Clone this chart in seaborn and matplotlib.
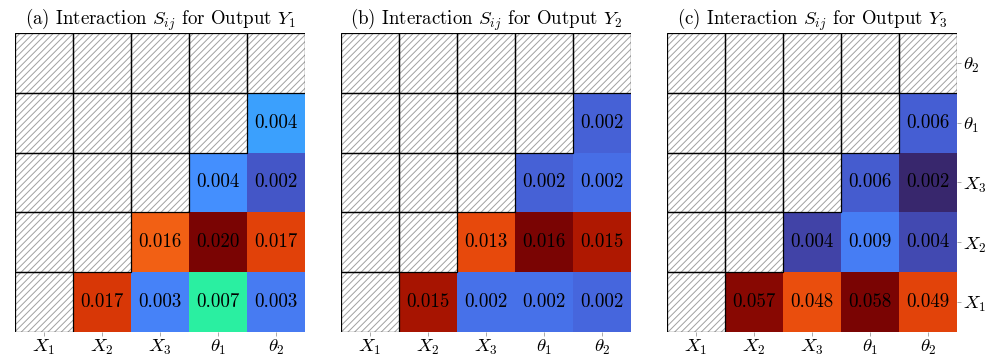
import numpy as np
import pandas as pd
import seaborn as sns
import matplotlib.pyplot as plt
from matplotlib.patches import Rectangle

# variable names, columns left->right, rows top->bottom
cols = ['$X_1$', '$X_2$', '$X_3$', r'$\theta_1$', r'$\theta_2$']
rows = [r'$\theta_2$', r'$\theta_1$', '$X_3$', '$X_2$', '$X_1$']

# interaction values per output (row order as above, NaN = hatched)
n = np.nan
s_y1 = [[n, n, n, n, n],
        [n, n, n, n, 0.0042],
        [n, n, n, 0.0037, 0.0019],
        [n, n, 0.0160, 0.0202, 0.0170],
        [n, 0.0174, 0.0033, 0.0074, 0.0030]]
s_y2 = [[n, n, n, n, n],
        [n, n, n, n, 0.0018],
        [n, n, n, 0.0018, 0.0021],
        [n, n, 0.0134, 0.0162, 0.0151],
        [n, 0.0153, 0.0022, 0.0022, 0.0019]]
s_y3 = [[n, n, n, n, n],
        [n, n, n, n, 0.0062],
        [n, n, n, 0.0061, 0.0018],
        [n, n, 0.0040, 0.0090, 0.0044],
        [n, 0.0572, 0.0478, 0.0583, 0.0488]]
titles = [r'(a) Interaction $S_{ij}$ for Output $Y_1$',
          r'(b) Interaction $S_{ij}$ for Output $Y_2$',
          r'(c) Interaction $S_{ij}$ for Output $Y_3$']

plt.rcParams['font.family'] = 'serif'
plt.rcParams['font.serif'] = ['cmr10']
plt.rcParams['mathtext.fontset'] = 'cm'
plt.rcParams['axes.unicode_minus'] = False
plt.rcParams['axes.formatter.use_mathtext'] = True
plt.rcParams['hatch.linewidth'] = 0.7

fs = 13.6
fig = plt.figure(figsize=(9.85, 3.6), dpi=100)
lefts = [15, 341, 667]
for k, data in enumerate([s_y1, s_y2, s_y3]):
    ax = fig.add_axes([lefts[k] / 985, 28 / 360, 290 / 985, 299 / 360])
    df = pd.DataFrame(data, index=rows, columns=cols)
    sns.heatmap(df, ax=ax, cmap='turbo', vmin=0, vmax=np.nanmax(df.values),
                annot=True, fmt='.3f', cbar=False,
                annot_kws={'color': 'black', 'fontsize': fs})
    # hatched empty cells
    for i in range(5):
        for j in range(5):
            if np.isnan(data[i][j]):
                ax.add_patch(Rectangle((j, i), 1, 1, facecolor='white', edgecolor='#a0a0a0',
                                       hatch='/////', lw=0, zorder=2))
                ax.add_patch(Rectangle((j, i), 1, 1, fill=False, edgecolor='black',
                                       lw=0.9, zorder=3))
    ax.set_title(titles[k], fontsize=fs, pad=5)
    ax.tick_params(axis='x', labelsize=fs, length=3, width=0.5, color='#888888', pad=1)
    ax.set_xlabel('')
    ax.set_ylabel('')
    if k == 2:
        ax.yaxis.tick_right()
        ax.tick_params(axis='y', labelsize=fs, length=3, width=0.5, color='#888888',
                       labelrotation=0, pad=1)
    else:
        ax.set_yticks([])
    for sp in ax.spines.values():
        sp.set_visible(False)

fig.savefig('out.png', dpi=100)
